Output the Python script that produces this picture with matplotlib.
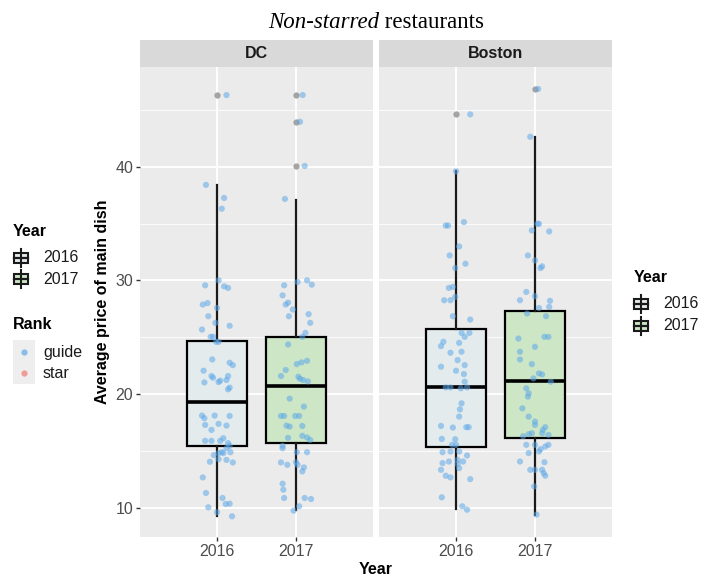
import matplotlib
matplotlib.use("Agg")
import matplotlib.pyplot as plt
from matplotlib.patches import Rectangle
from matplotlib.lines import Line2D

plt.rcParams['font.family'] = ['Liberation Sans', 'DejaVu Sans']

# データ
cities = ["DC", "Boston"]
years = ["2016", "2017"]

# 箱ひげ図の統計量 [2016, 2017]
box_stats = {
    "DC": {
        "q1": [15.44, 15.73], "med": [19.27, 20.73], "q3": [24.65, 25.03],
        "whislo": [9.3, 9.77], "whishi": [38.4, 37.1],
        "fliers": [[46.3], [46.3, 43.95, 40.06]],
    },
    "Boston": {
        "q1": [15.32, 16.17], "med": [20.61, 21.11], "q3": [25.76, 27.34],
        "whislo": [9.91, 9.38], "whishi": [39.6, 42.63],
        "fliers": [[44.6], [46.84]],
    },
}

# ジッターした点 (横ずれ, 価格)
dc_2016_dx = [-0.14, 0.09, 0.06, 0.02, -0.15, 0.09, 0.14, -0.18, -0.12, 0.0, -0.11, -0.02, 0.16,
              -0.19, -0.08, -0.05, -0.01, 0.02, -0.06, 0.16, 0.2, -0.17, -0.07, -0.05, 0.04, 0.02,
              0.14, 0.12, -0.16, 0.16, 0.14, -0.19, -0.16, -0.03, 0.16, -0.15, -0.07, 0.02, 0.12,
              -0.15, -0.07, 0.04, 0.08, 0.14, 0.16, 0.12, 0.06, 0.02, 0.08, 0.17, -0.04, -0.09,
              0.02, 0.12, 0.2, -0.18, -0.14, 0.07, 0.11, 0.16, -0.11, 0.19, 0.0, 0.12]
dc_2016_y = [38.4, 37.25, 36.3, 30.0, 29.56, 29.47, 29.33, 27.87, 28.0, 27.57, 26.84, 26.26, 26.0,
             25.67, 25.03, 25.03, 24.59, 24.59, 23.04, 22.75, 22.54, 22.05, 21.58, 21.43, 21.17, 21.05,
             21.58, 21.23, 21.02, 20.56, 20.41, 18.1, 17.87, 18.1, 18.07, 17.28, 16.84, 17.37, 17.22,
             15.88, 15.88, 15.88, 16.11, 15.67, 15.44, 15.23, 14.88, 14.8, 14.8, 14.88, 14.62, 14.04,
             14.27, 14.2, 13.98, 12.66, 11.29, 10.85, 10.32, 10.35, 10.03, 9.24, 9.59, 46.3]

dc_2017_dx = [0.085, 0.05, 0.11, -0.14, -0.15, 0.02, 0.14, 0.2, -0.17, -0.13, -0.1, -0.04, -0.09,
              0.16, 0.18, 0.12, 0.08, -0.1, 0.01, 0.07, 0.14, -0.13, -0.19, 0.03, 0.05, 0.09, 0.15,
              -0.08, 0.1, -0.19, -0.15, -0.01, 0.04, -0.12, -0.08, 0.08, -0.1, 0.08, 0.14, 0.18,
              -0.17, -0.17, 0.01, 0.14, -0.19, -0.11, 0.0, 0.02, 0.1, 0.08, -0.17, -0.16, -0.15,
              0.11, 0.19, 0.04, -0.03]
dc_2017_y = [46.3, 43.95, 40.06, 37.16, 29.56, 29.85, 30.0, 29.62, 28.68, 27.87, 28.04, 27.43, 26.84,
             27.02, 26.26, 25.38, 25.03, 24.36, 22.63, 22.78, 22.92, 22.11, 21.58, 21.52, 21.34, 21.23, 21.11,
             19.59, 18.89, 18.07, 18.07, 18.07, 18.07, 17.22, 17.13, 17.19, 16.14, 16.32, 16.17, 15.96,
             15.44, 15.23, 14.88, 14.88, 13.98, 13.77, 14.0, 13.77, 13.54, 13.19, 12.11, 11.58, 10.85,
             10.85, 10.76, 10.12, 9.74]

bos_2016_dx = [0.18, 0.0, -0.13, -0.1, 0.1, 0.04, -0.08, 0.12, -0.01, -0.09, -0.04, -0.15, -0.07,
               -0.01, -0.04, 0.18, 0.07, 0.11, 0.17, -0.19, -0.16, 0.04, -0.07, 0.07, 0.02, -0.19,
               0.11, 0.0, 0.1, 0.11, -0.13, -0.07, 0.06, 0.14, 0.07, 0.05, 0.04, -0.19, -0.04, 0.13,
               0.16, -0.18, -0.01, -0.05, 0.0, -0.17, -0.07, 0.04, 0.14, -0.17, -0.09, 0.02, 0.09,
               -0.19, 0.04, 0.02, -0.13, -0.07, 0.18, -0.18, 0.08, 0.14]
bos_2016_y = [44.6, 39.59, 34.82, 34.82, 35.12, 32.98, 32.19, 31.46, 31.08, 29.33, 29.42, 28.25, 28.25,
              28.54, 26.84, 26.55, 25.38, 25.03, 25.38, 24.21, 24.59, 24.5, 23.63, 23.72, 22.98, 22.4,
              22.54, 22.05, 21.75, 21.08, 20.58, 20.58, 20.5, 20.58, 19.18, 18.65, 18.01, 17.19, 17.05, 17.08,
              17.08, 16.05, 16.02, 15.53, 15.53, 14.88, 14.94, 14.94, 14.59, 13.92, 14.06, 14.21, 14.06,
              13.33, 13.48, 13.86, 12.81, 12.66, 12.51, 10.91, 10.12, 9.82]

bos_2017_dx = [0.04, -0.06, 0.05, 0.03, -0.04, 0.18, -0.09, 0.0, 0.07, 0.09, -0.11, -0.19, 0.0, 0.19,
               0.05, 0.18, -0.1, 0.14, -0.21, 0.12, 0.17, 0.0, -0.19, -0.19, -0.04, 0.05, 0.09, -0.02,
               0.2, -0.11, -0.09, -0.08, -0.16, -0.08, 0.0, 0.0, 0.13, 0.1, -0.04, 0.17, 0.09, -0.08,
               -0.15, -0.11, 0.0, 0.07, 0.13, 0.17, -0.08, 0.05, -0.19, 0.12, -0.06, 0.0, 0.09, 0.11,
               0.13, -0.01, 0.02]
bos_2017_y = [46.84, 42.63, 34.97, 34.97, 34.39, 34.3, 32.19, 31.75, 31.08, 31.23, 28.98, 28.25, 28.6, 28.2,
              27.57, 27.66, 27.08, 26.84, 24.88, 25.03, 25.03, 24.15, 23.72, 23.04, 22.63, 21.81, 21.72, 21.37,
              21.08, 20.5, 19.77, 20.06, 18.74, 18.01, 17.57, 17.28, 17.08, 16.84, 16.55, 16.4, 16.55, 16.46,
              16.29, 15.53, 15.53, 15.15, 15.38, 15.53, 14.8, 14.94, 14.06, 14.0, 13.33, 13.33, 13.33, 13.04,
              12.81, 11.87, 9.39]

points = {
    "DC": [(dc_2016_dx, dc_2016_y), (dc_2017_dx, dc_2017_y)],
    "Boston": [(bos_2016_dx, bos_2016_y), (bos_2017_dx, bos_2017_y)],
}

fill_colors = ["#E4EBED", "#CDE7C6"]
point_color = "#5DA8E8"
bg = "#EBEBEB"
text_gray = "#4D4D4D"

fig = plt.figure(figsize=(7.14, 5.84), dpi=100)
fig.patch.set_facecolor("white")

ax_bottom = 0.0805
ax_height = 0.8048
lefts = [140 / 714, 379 / 714]
width = 233 / 714
strip_h = 27 / 470

axes = []
for i, city in enumerate(cities):
    ax = fig.add_axes([lefts[i], ax_bottom, width, ax_height])
    axes.append(ax)
    ax.set_facecolor(bg)
    for s in ax.spines.values():
        s.set_visible(False)

    st = box_stats[city]
    stats = []
    for j in range(2):
        stats.append({
            "med": st["med"][j], "q1": st["q1"][j], "q3": st["q3"][j],
            "whislo": st["whislo"][j], "whishi": st["whishi"][j],
            "fliers": st["fliers"][j],
        })
    bp = ax.bxp(stats, positions=[0, 1], widths=0.75, patch_artist=True, showcaps=False,
                boxprops=dict(linewidth=1.6, edgecolor="black"),
                whiskerprops=dict(linewidth=1.6, color="#1A1A1A"),
                medianprops=dict(linewidth=2.6, color="black"),
                flierprops=dict(marker="o", markersize=4.5, markerfacecolor="#9A9A9A",
                                markeredgecolor="none", alpha=0.9),
                zorder=2)
    for j, patch in enumerate(bp["boxes"]):
        patch.set_facecolor(fill_colors[j])

    for j in range(2):
        dx, yv = points[city][j]
        ax.scatter([j + d for d in dx], yv, s=20, color=point_color, alpha=0.55,
                   edgecolors="none", zorder=3)

    ax.set_xlim(-0.975, 1.975)
    ax.set_ylim(7.42, 48.77)
    ax.set_xticks([0, 1])
    ax.set_xticklabels(years)
    ax.set_yticks([10, 20, 30, 40])
    ax.set_yticks([15, 25, 35, 45], minor=True)
    ax.grid(True, which="major", color="white", linewidth=1.3, zorder=0)
    ax.grid(True, which="minor", axis="y", color="white", linewidth=0.6, zorder=0)
    ax.set_axisbelow(True)
    ax.tick_params(axis="both", which="major", length=3, width=1, color="#333333",
                   labelcolor=text_gray, labelsize=11.5, pad=2)
    ax.tick_params(axis="y", which="minor", length=0)
    if i == 1:
        ax.tick_params(axis="y", which="both", left=False, labelleft=False)

    # ストリップ
    ax.add_patch(Rectangle((0, 1), 1, strip_h, transform=ax.transAxes, facecolor="#D9D9D9",
                           edgecolor="none", clip_on=False))
    ax.text(0.5, 1 + strip_h / 2, city, transform=ax.transAxes, ha="center", va="center",
            fontsize=11.5, fontweight="bold", color="#1A1A1A")

axes[0].set_ylabel("Average price of main dish", fontsize=11.5, fontweight="bold", labelpad=4)
fig.text(376 / 714, 1 - 570 / 584, "Year", ha="center", va="center", fontsize=11.5,
         fontweight="bold")

# タイトル（斜体部分と通常部分）
t1 = fig.text(0, 1 - 23 / 584, "Non-starred", fontfamily="Liberation Serif", style="italic",
              fontsize=16.5, ha="left", va="center")
t2 = fig.text(0, 1 - 23 / 584, " restaurants", fontfamily="Liberation Serif",
              fontsize=16.5, ha="left", va="center")
fig.canvas.draw()
r = fig.canvas.get_renderer()
w1 = t1.get_window_extent(r).width
w2 = t2.get_window_extent(r).width
x0 = 376 - (w1 + w2) / 2
t1.set_x(x0 / 714)
t2.set_x((x0 + w1) / 714)


def fx(px):
    return px / 714


def fy(py):
    return 1 - py / 584


def box_glyph(cx, cy, color):
    # 凡例の箱ひげ記号
    fig.add_artist(Line2D([fx(cx), fx(cx)], [fy(cy - 9), fy(cy + 9)], color="#1A1A1A", lw=1.5))
    fig.add_artist(Rectangle((fx(cx - 7), fy(cy + 5)), 14 / 714, 10 / 584, facecolor=color,
                             edgecolor="#1A1A1A", lw=1.5))
    fig.add_artist(Line2D([fx(cx - 7), fx(cx + 7)], [fy(cy), fy(cy)], color="#1A1A1A", lw=1.6))


# 左の凡例
fig.text(fx(13), fy(231), "Year", fontsize=11.5, fontweight="bold", va="center")
for k, yy in enumerate([258, 279]):
    box_glyph(21, yy, fill_colors[k])
    fig.text(fx(43), fy(yy), years[k], fontsize=11.5, va="center", color="#1A1A1A")
fig.text(fx(13), fy(325), "Rank", fontsize=11.5, fontweight="bold", va="center")
fig.add_artist(Rectangle((fx(13), fy(384)), 22 / 714, 44 / 584, facecolor="#EEEEEE",
                         edgecolor="none"))
for lab, col, yy in [("guide", point_color, 352), ("star", "#F07A70", 373)]:
    fig.add_artist(Line2D([fx(24)], [fy(yy)], marker="o", markersize=4.5, color=col,
                          alpha=0.7, markeredgecolor="none"))
    fig.text(fx(43), fy(yy), lab, fontsize=11.5, va="center", color="#1A1A1A")

# 右の凡例
fig.text(fx(634), fy(277), "Year", fontsize=11.5, fontweight="bold", va="center")
for k, yy in enumerate([304, 326]):
    box_glyph(641, yy, fill_colors[k])
    fig.text(fx(663), fy(yy), years[k], fontsize=11.5, va="center", color="#1A1A1A")

fig.savefig("out.png", dpi=100)
